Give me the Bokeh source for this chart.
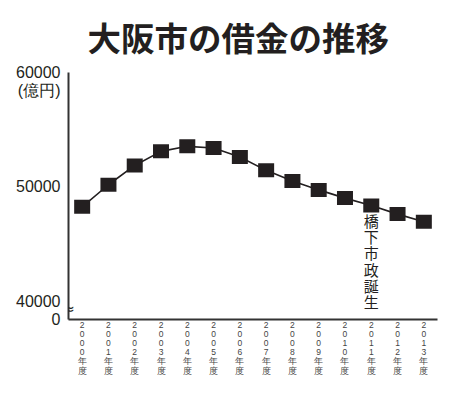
from bokeh.plotting import figure
from bokeh.models import FixedTicker, Label, Title, ColumnDataSource, Range1d
from bokeh.core.properties import value
from bokeh.embed import file_html
from bokeh.resources import INLINE

years = [2000, 2001, 2002, 2003, 2004, 2005, 2006, 2007, 2008, 2009, 2010, 2011, 2012, 2013]
debt = [48250, 50180, 51870, 53100, 53540, 53390, 52600, 51440, 50500, 49730, 49010, 48370, 47610, 46940]
y_ticks = [40000, 50000, 60000]
y_break = 38390
unit_pos = 58390
x_labels = ["\n".join(list(str(y)) + ["年", "度"]) for y in years]
note_text = "橋下市政誕生"
note_year = 2011
note_top = 47960
title_text = "大阪市の借金の推移"
unit_text = "(億円)"

JP = "Noto Sans CJK JP"
INK = "#231f20"

idx = list(range(len(years)))
src = ColumnDataSource(dict(x=idx, y=debt))

p = figure(frame_width=369, frame_height=247, output_backend="svg", toolbar_location=None,
           x_range=Range1d(-0.52, len(years) - 1 + 0.52), y_range=Range1d(y_break, 60000),
           min_border_left=68, min_border_right=19, min_border_top=72, min_border_bottom=76,
           background_fill_color="white", border_fill_color="white", outline_line_color=None)

p.title = Title(text=title_text, align="left", offset=19, text_font=JP, text_font_size="33.5px",
                text_font_style="bold", text_color=INK, standoff=20, vertical_align="top")

p.xgrid.visible = False
p.ygrid.visible = False

# y axis
p.yaxis.ticker = FixedTicker(ticks=[y_break] + y_ticks + [unit_pos])
p.yaxis.major_label_overrides = {y_break: "0", unit_pos: unit_text, **{t: str(t) for t in y_ticks}}
p.yaxis.major_tick_line_color = None
p.yaxis.minor_tick_line_color = None
p.yaxis.axis_line_width = 2
p.yaxis.axis_line_color = "#333333"
p.yaxis.major_label_standoff = 2
p.yaxis.major_label_text_font = "Liberation Sans"
p.yaxis.major_label_text_font_size = "16px"
p.yaxis.major_label_text_color = INK

# x axis
p.xaxis.ticker = FixedTicker(ticks=idx)
p.xaxis.major_label_overrides = {i: lab for i, lab in zip(idx, x_labels)}
p.xaxis.major_tick_line_color = None
p.xaxis.minor_tick_line_color = None
p.xaxis.axis_line_width = 2
p.xaxis.axis_line_color = "#333333"
p.xaxis.major_label_standoff = -6
p.xaxis.major_label_text_font = "Liberation Sans"
p.xaxis.major_label_text_font_size = "8.5px"
p.xaxis.major_label_text_line_height = 0.92
p.xaxis.major_label_text_color = "#444444"

p.line("x", "y", source=src, line_color=INK, line_width=1.6)
p.rect("x", "y", source=src, width=16, height=14, width_units="screen", height_units="screen",
       fill_color=INK, line_color=None)

p.text(x=[years.index(note_year)], y=[note_top], text=["\n".join(note_text)], text_align="center",
       text_baseline="top", text_font=value(JP), text_font_size="15px", text_line_height=0.77,
       text_color=INK)

p.add_layout(Label(x=-0.52, y=39280, text="≈", text_align="center", text_baseline="middle",
                   text_font="DejaVu Sans", text_font_size="15px", text_color=INK))

open("out.html", "w").write(file_html(p, INLINE))
